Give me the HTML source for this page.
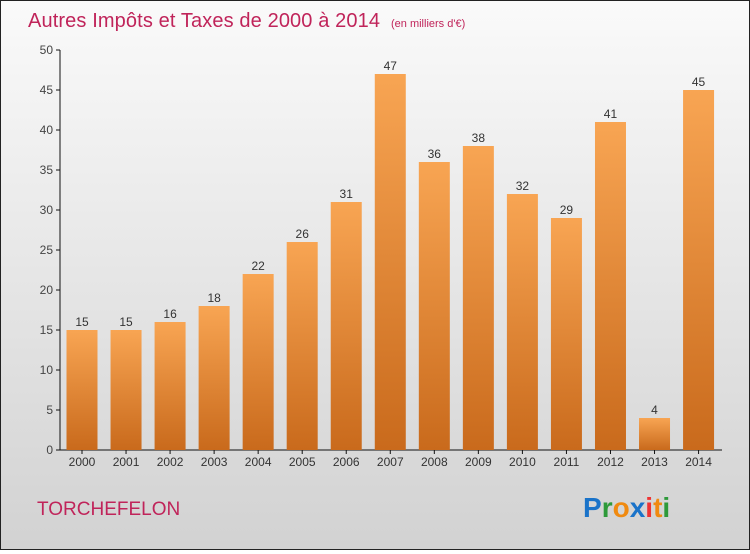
<!DOCTYPE html>
<html><head><meta charset="utf-8">
<style>
html,body{margin:0;padding:0}
body{width:750px;height:550px;overflow:hidden;font-family:"Liberation Sans",sans-serif}
#wrap{position:absolute;left:0;top:0;width:748px;height:548px;border:1px solid #222;background:linear-gradient(#fafafa,#d2d2d2)}
</style></head><body>
<div id="wrap">
<svg id="chart" width="748" height="548" xmlns="http://www.w3.org/2000/svg">
<defs><linearGradient id="bg" x1="0" y1="0" x2="0" y2="1"><stop offset="0" stop-color="#f8a553"/><stop offset="1" stop-color="#c96a1c"/></linearGradient></defs>
<text x="27" y="26" font-size="20" fill="#c0245a" textLength="352">Autres Impôts et Taxes de 2000 à 2014</text>
<text x="390" y="26" font-size="11" fill="#c0245a">(en milliers d'€)</text>
<text x="36" y="514" font-size="19" fill="#c0245a">TORCHEFELON</text>
<g font-size="28" font-weight="bold" font-family="'Liberation Sans',sans-serif">
<text x="582" y="516"><tspan fill="#1a73c9">P</tspan><tspan fill="#2e9a3a">r</tspan><tspan fill="#f08a10">o</tspan><tspan fill="#1a73c9">x</tspan><tspan fill="#e33">i</tspan><tspan fill="#f08a10">t</tspan><tspan fill="#2e9a3a">i</tspan></text>
</g>
<g id="axes"></g><g id="bars"></g>
</svg>
</div>
<script>
const categories=["2000","2001","2002","2003","2004","2005","2006","2007","2008","2009","2010","2011","2012","2013","2014"];
const values=[15,15,16,18,22,26,31,47,36,38,32,29,41,4,45];
const yTicks=[0,5,10,15,20,25,30,35,40,45,50];
const NS="http://www.w3.org/2000/svg";
const y0=449,yTop=49,yMax=50,x0=81,step=44.04,bw=31;
const ys=v=>y0-(v/yMax)*(y0-yTop);
const xs=i=>x0+i*step;
function mk(t,a,p){const e=document.createElementNS(NS,t);for(const k in a)e.setAttribute(k,a[k]);p.appendChild(e);return e;}
const ax=document.getElementById('axes'),bars=document.getElementById('bars');
const yl=mk('line',{x1:59,y1:yTop,x2:59,y2:y0,stroke:'#111'},ax);


const xl=mk('line',{x1:59,y1:y0,x2:721,y2:y0,stroke:'#111'},ax);


yTicks.forEach(v=>{
 mk('line',{x1:55,y1:ys(v),x2:59,y2:ys(v),stroke:'#111'},ax);
 const t=mk('text',{x:52,y:ys(v)+4,'text-anchor':'end','font-size':12,fill:'#444'},ax);
 t.textContent=v;
 
 
});
categories.forEach((c,i)=>{
 const cx=xs(i),v=values[i];
 const r=mk('rect',{x:cx-bw/2,y:ys(v),width:bw,height:y0-ys(v),fill:'url(#bg)'},bars);
 
 
 mk('line',{x1:cx,y1:y0,x2:cx,y2:y0+4,stroke:'#111'},ax);
 const t=mk('text',{x:cx,y:y0+16,'text-anchor':'middle','font-size':12,fill:'#333'},ax);
 t.textContent=c;
 
 
 const l=mk('text',{x:cx,y:ys(v)-4,'text-anchor':'middle','font-size':12,fill:'#333'},bars);
 l.textContent=v;
 
 
});
</script>
</body></html>
